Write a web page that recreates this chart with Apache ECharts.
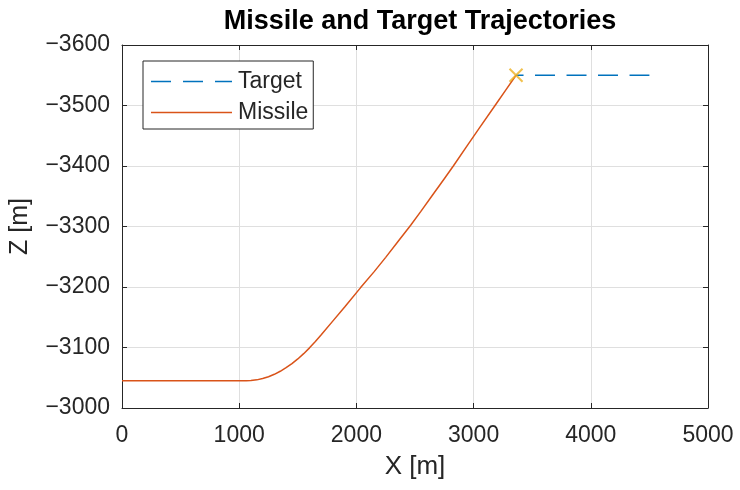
<!DOCTYPE html>
<html>
<head>
<meta charset="utf-8">
<script src="https://cdn.jsdelivr.net/npm/echarts@6/dist/echarts.min.js"></script>
<style>
  html, body { margin: 0; padding: 0; background: #fff; }
  #chart { width: 740px; height: 490px; }
</style>
</head>
<body>
<div id="chart"></div>
<script>
// Missile path (x, z)
const missileX = [0, 500, 1000, 1060, 1100, 1150, 1200, 1250, 1300, 1350, 1400, 1450, 1500, 1550, 1600, 1650, 1700, 1800, 1900, 2036, 2150, 2250, 2350, 2463, 2550, 2650, 2750, 2827, 2950, 3050, 3183, 3280, 3362];
const missileZ = [-3045, -3045, -3045, -3045, -3045.3, -3046.5, -3048.7, -3051.7, -3055.7, -3060.7, -3066.6, -3073.4, -3081.1, -3089.8, -3099.4, -3109.9, -3121, -3144, -3167, -3199, -3225, -3249, -3274, -3302, -3325, -3352, -3379, -3400, -3435, -3463, -3500, -3527, -3550];

// Target path
const targetX = [3362, 4500];
const targetZ = [-3550, -3550];

// Intercept point
const interceptX = [3362];
const interceptZ = [-3550];

const xTicks = { min: 0, max: 5000, step: 1000 };
const zTicks = { min: -3600, max: -3000, step: 100 };

const FONT = 'Liberation Sans, Arial, Helvetica, sans-serif';
const INK = '#262626';

// legend glyphs: dashed and solid line samples
const DASH_ICON = 'path://M0,0h20v1.6h-20zM32,0h20v1.6h-20zM64,0h17v1.6h-17z';
const SOLID_ICON = 'path://M0,0h81v1.6h-81z';

let chart = echarts.init(document.getElementById('chart'));

const zip = (xs, ys) => xs.map((x, i) => [x, ys[i]]);
const plain = v => String(v).replace('-', '\u2212');

function axisBase(range) {
    return {
        type: 'value',
        min: range.min,
        max: range.max,
        interval: range.step,
        axisLine: { show: true, onZero: false, lineStyle: { color: INK, width: 1 } },
        axisTick: { show: true, inside: true, length: 5, lineStyle: { color: INK } }
    };
}

let option = {
    animation: false,
    backgroundColor: '#fff',
    title: {
        text: 'Missile and Target Trajectories',
        left: 415,
        top: 3,
        textAlign: 'center',
        textStyle: { fontFamily: FONT, fontSize: 27, fontWeight: 'bold', color: '#000' }
    },
    legend: {
        orient: 'vertical',
        left: 143,
        top: 61,
        data: [
            { name: 'Target', icon: DASH_ICON },
            { name: 'Missile', icon: SOLID_ICON }
        ],
        itemWidth: 81,
        itemHeight: 14,
        itemGap: 8,
        symbolKeepAspect: true,
        padding: [9, 5, 5, 8],
        borderColor: INK,
        borderWidth: 1,
        backgroundColor: '#fff',
        textStyle: { fontFamily: FONT, fontSize: 23, color: INK, padding: [0, 0, 0, 1] }
    },
    grid: { left: 122, right: 32, top: 45, bottom: 82, containLabel: false },
    xAxis: [
        Object.assign(axisBase(xTicks), {
            position: 'bottom',
            name: 'X [m]',
            nameLocation: 'middle',
            nameGap: 46,
            nameTextStyle: { fontFamily: FONT, fontSize: 26, color: INK },
            axisLabel: { fontFamily: FONT, fontSize: 23, color: INK, margin: 16, formatter: plain },
            splitLine: { show: true, lineStyle: { color: '#dfdfdf', width: 1 } }
        }),
        Object.assign(axisBase(xTicks), {
            position: 'top',
            axisLabel: { show: false },
            splitLine: { show: false }
        })
    ],
    yAxis: [
        Object.assign(axisBase(zTicks), {
            position: 'left',
            inverse: true,
            name: 'Z [m]',
            nameLocation: 'middle',
            nameGap: 89,
            nameRotate: 90,
            nameTextStyle: { fontFamily: FONT, fontSize: 25, color: INK },
            axisLabel: { fontFamily: FONT, fontSize: 23, color: INK, margin: 12, formatter: plain },
            splitLine: { show: true, lineStyle: { color: '#dfdfdf', width: 1 } }
        }),
        Object.assign(axisBase(zTicks), {
            position: 'right',
            inverse: true,
            axisLabel: { show: false },
            splitLine: { show: false }
        })
    ],
    series: [
        {
            name: 'Target',
            type: 'line',
            data: zip(targetX, targetZ),
            symbol: 'none',
            color: '#0072BD',
            lineStyle: { color: '#0072BD', width: 1.5, type: [20, 11.5], dashOffset: 12.5 },
            z: 3
        },
        {
            name: 'Missile',
            type: 'line',
            data: zip(missileX, missileZ),
            symbol: 'none',
            color: '#D95319',
            lineStyle: { color: '#D95319', width: 1.5 },
            z: 4
        },
        {
            name: 'Intercept',
            type: 'scatter',
            data: zip(interceptX, interceptZ),
            symbol: 'path://M0,0L10,10M10,0L0,10',
            symbolSize: 13,
            itemStyle: { color: 'none', borderColor: '#EDB120', borderWidth: 2 },
            z: 5
        }
    ]
};

chart.setOption(option);
</script>
</body>
</html>
